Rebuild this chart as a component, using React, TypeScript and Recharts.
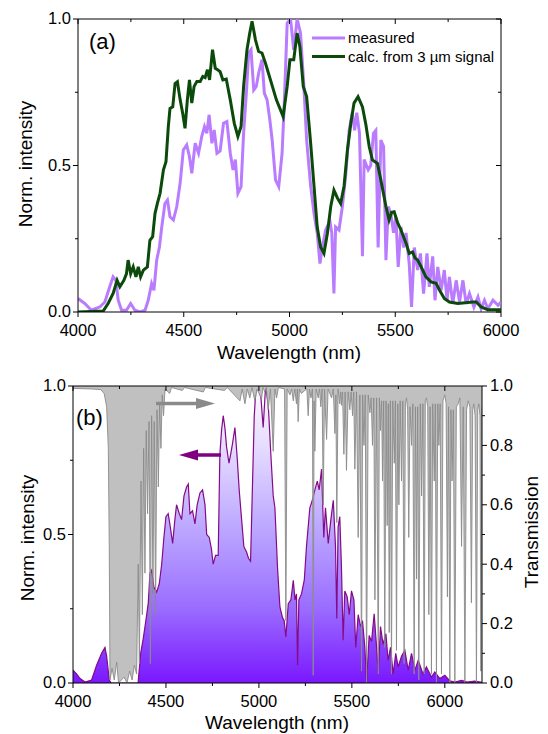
import React from 'react';
import { ComposedChart, Line, Area, XAxis, YAxis, ReferenceLine } from 'recharts';

const FONT = '"Liberation Sans", Arial, Helvetica, sans-serif';

// ---------- panel (a): measured vs calculated spectrum ----------
const measuredA: [number, number][] = [
  [4000, 0.046], [4032, 0.029], [4063, 0.006], [4103, 0.017], [4127, 0.034], [4150, 0.086], [4166, 0.12], [4179, 0.108],
  [4190, 0.04], [4206, 0.006], [4229, 0.006], [4249, 0.029], [4269, 0.006], [4293, 0], [4317, 0.006], [4332, 0.04],
  [4348, 0.097], [4359, 0.074], [4372, 0.177], [4385, 0.222], [4396, 0.29], [4411, 0.37], [4423, 0.382], [4435, 0.325],
  [4451, 0.314], [4467, 0.36], [4483, 0.44], [4498, 0.553], [4514, 0.57], [4527, 0.53], [4538, 0.473], [4554, 0.576],
  [4570, 0.542], [4585, 0.599], [4598, 0.633], [4609, 0.61], [4620, 0.673], [4633, 0.576], [4644, 0.621], [4657, 0.542],
  [4672, 0.55], [4688, 0.644], [4704, 0.65], [4720, 0.542], [4733, 0.485], [4744, 0.52], [4756, 0.405], [4771, 0.428],
  [4783, 0.61], [4796, 0.747], [4807, 0.884], [4818, 0.895], [4831, 0.758], [4843, 0.77], [4854, 0.815], [4870, 0.861],
  [4881, 0.747], [4894, 0.724], [4907, 0.656], [4918, 0.587], [4934, 0.45], [4949, 0.428], [4965, 0.542], [4976, 0.724],
  [4989, 0.986], [5005, 1.0], [5020, 0.895], [5036, 1.0], [5052, 0.952], [5068, 0.77], [5081, 0.587], [5100, 0.43],
  [5116, 0.336], [5131, 0.27], [5144, 0.165], [5155, 0.22], [5171, 0.28], [5191, 0.31], [5200, 0.27], [5210, 0.063],
  [5218, 0.29], [5234, 0.28], [5250, 0.36], [5266, 0.47], [5282, 0.62], [5297, 0.68], [5308, 0.62], [5318, 0.68],
  [5331, 0.61], [5345, 0.19], [5353, 0.52], [5372, 0.485], [5384, 0.5], [5397, 0.61], [5408, 0.62], [5419, 0.22],
  [5432, 0.587], [5445, 0.565], [5456, 0.177], [5467, 0.36], [5479, 0.336], [5492, 0.27], [5503, 0.325], [5514, 0.154],
  [5527, 0.29], [5540, 0.22], [5551, 0.27], [5566, 0.165], [5577, 0.017], [5590, 0.22], [5606, 0.143], [5619, 0.2],
  [5634, 0.063], [5650, 0.2], [5661, 0.086], [5677, 0.19], [5688, 0.04], [5701, 0.154], [5717, 0.074], [5732, 0.143],
  [5745, 0.04], [5756, 0.12], [5772, 0.028], [5788, 0.108], [5804, 0.034], [5820, 0.108], [5835, 0.028], [5851, 0.063],
  [5872, 0.017], [5891, 0.051], [5906, 0.011], [5922, 0.04], [5938, 0.011], [5962, 0.04], [5986, 0.023], [6000, 0.034],
];

const calcA: [number, number][] = [
  [4000, 0], [4119, 0.003], [4143, 0.03], [4166, 0.063], [4185, 0.108], [4198, 0.086], [4217, 0.108], [4229, 0.13],
  [4237, 0.177], [4249, 0.131], [4261, 0.154], [4274, 0.12], [4285, 0.154], [4296, 0.12], [4309, 0.143], [4328, 0.154],
  [4340, 0.245], [4353, 0.257], [4364, 0.336], [4375, 0.37], [4388, 0.405], [4404, 0.485], [4416, 0.513], [4427, 0.633],
  [4435, 0.695], [4448, 0.7], [4459, 0.78], [4470, 0.786], [4483, 0.724], [4495, 0.678], [4506, 0.627], [4517, 0.724],
  [4527, 0.792], [4538, 0.713], [4549, 0.77], [4562, 0.787], [4578, 0.787], [4590, 0.804], [4601, 0.8], [4612, 0.827],
  [4622, 0.792], [4636, 0.895], [4649, 0.832], [4660, 0.827], [4672, 0.82], [4685, 0.792], [4701, 0.795], [4720, 0.724],
  [4739, 0.644], [4756, 0.599], [4771, 0.633], [4783, 0.77], [4799, 0.895], [4812, 0.952], [4823, 0.992], [4839, 0.929],
  [4854, 0.889], [4870, 0.884], [4886, 0.85], [4910, 0.792], [4938, 0.724], [4970, 0.667], [4989, 0.77], [5002, 0.861],
  [5020, 0.861], [5036, 0.952], [5049, 0.906], [5065, 0.77], [5081, 0.735], [5100, 0.576], [5116, 0.43], [5131, 0.29],
  [5147, 0.222], [5163, 0.2], [5179, 0.268], [5195, 0.36], [5210, 0.416], [5226, 0.39], [5242, 0.37], [5258, 0.43],
  [5274, 0.553], [5290, 0.644], [5305, 0.713], [5324, 0.735], [5345, 0.7], [5361, 0.64], [5377, 0.564], [5392, 0.519],
  [5416, 0.507], [5432, 0.45], [5456, 0.36], [5471, 0.314], [5483, 0.34], [5495, 0.342], [5511, 0.305], [5527, 0.28],
  [5551, 0.235], [5566, 0.2], [5582, 0.205], [5593, 0.185], [5606, 0.177], [5622, 0.155], [5645, 0.12], [5669, 0.103],
  [5693, 0.098], [5709, 0.075], [5732, 0.046], [5756, 0.034], [5796, 0.029], [5867, 0.034], [5883, 0.034], [5906, 0.017],
  [5938, 0.008], [6000, 0.008],
];

// ---------- panel (b): measured spectrum + atmospheric transmission ----------
const intensityB: [number, number][] = [
  [4000, 0.043], [4020, 0.03], [4038, 0.015], [4065, 0.003], [4100, 0.01], [4127, 0.06], [4154, 0.1], [4172, 0.12],
  [4181, 0.09], [4195, 0.01], [4205, 0], [4350, 0], [4364, 0.1], [4378, 0.15], [4392, 0.21], [4405, 0.27],
  [4414, 0.37], [4423, 0.38], [4435, 0.323], [4450, 0.306], [4464, 0.334], [4477, 0.4], [4489, 0.49], [4500, 0.56],
  [4512, 0.57], [4521, 0.535], [4536, 0.47], [4548, 0.55], [4557, 0.6], [4572, 0.57], [4584, 0.55], [4597, 0.63],
  [4611, 0.66], [4620, 0.67], [4629, 0.57], [4643, 0.58], [4656, 0.536], [4668, 0.6], [4683, 0.64], [4697, 0.65],
  [4710, 0.6], [4719, 0.5], [4733, 0.49], [4745, 0.45], [4754, 0.4], [4767, 0.43], [4781, 0.43], [4790, 0.77],
  [4799, 0.85], [4808, 0.9], [4817, 0.86], [4826, 0.795], [4839, 0.74], [4848, 0.77], [4858, 0.806], [4871, 0.86],
  [4883, 0.76], [4894, 0.65], [4907, 0.55], [4919, 0.46], [4934, 0.44], [4944, 0.42], [4955, 0.41], [4966, 0.68],
  [4975, 0.9], [4984, 0.99], [4996, 1.0], [5011, 0.96], [5023, 0.86], [5036, 1.0], [5050, 0.94], [5065, 0.76],
  [5077, 0.63], [5086, 0.59], [5100, 0.39], [5113, 0.256], [5127, 0.22], [5136, 0.21], [5145, 0.155], [5158, 0.267],
  [5172, 0.28], [5185, 0.346], [5194, 0.28], [5202, 0.3], [5208, 0.06], [5215, 0.28], [5229, 0.3], [5244, 0.346],
  [5256, 0.46], [5274, 0.59], [5287, 0.615], [5301, 0.65], [5314, 0.68], [5324, 0.65], [5337, 0.72], [5349, 0.49],
  [5358, 0.59], [5373, 0.47], [5387, 0.55], [5400, 0.615], [5412, 0.46], [5419, 0.217], [5426, 0.525], [5435, 0.56],
  [5444, 0.39], [5453, 0.144], [5462, 0.31], [5475, 0.29], [5486, 0.23], [5498, 0.31], [5511, 0.28], [5521, 0.12],
  [5534, 0.23], [5547, 0.19], [5557, 0.21], [5570, 0.12], [5579, 0.0], [5593, 0.16], [5606, 0.14], [5620, 0.233],
  [5633, 0.12], [5642, 0.03], [5654, 0.19], [5668, 0.13], [5683, 0.166], [5695, 0.076], [5708, 0.12], [5722, 0.03],
  [5736, 0.1], [5749, 0.054], [5767, 0.09], [5785, 0.11], [5803, 0.043], [5821, 0.1], [5839, 0.043], [5857, 0.076],
  [5883, 0.03], [5901, 0.054], [5928, 0.02], [5946, 0.037], [5973, 0.015], [6000, 0.026], [6027, 0.007], [6054, 0.003],
  [6090, 0.009], [6120, 0.003], [6160, 0.006], [6200, 0.002],
];

const transmissionB: [number, number][] = [
  [4000, 0.992], [4100, 0.99], [4150, 0.988], [4168, 0.974], [4181, 0.93], [4190, 0.79], [4195, 0.46], [4199, 0.01],
  [4210, 0.05], [4222, 0.01], [4235, 0.07], [4245, 0], [4275, 0.02], [4290, 0], [4305, 0.04], [4318, 0.01],
  [4330, 0.06], [4342, 0.03], [4351, 0.4], [4357, 0.065], [4366, 0.68], [4373, 0.23], [4380, 0.79], [4387, 0.37],
  [4394, 0.85], [4401, 0.57], [4409, 0.88], [4416, 0.065], [4423, 0.9], [4430, 0.3], [4437, 0.88], [4444, 0.23],
  [4452, 0.92], [4459, 0.66], [4466, 0.94], [4473, 0.79], [4480, 0.97], [4487, 0.9], [4495, 0.99], [4520, 0.975],
  [4530, 0.995], [4588, 0.985], [4600, 0.995], [4701, 0.98], [4712, 0.995], [4815, 0.985], [4830, 0.995], [4898, 0.95],
  [4910, 0.99], [4925, 0.94], [4938, 0.99], [4951, 0.96], [4963, 0.995], [4978, 0.95], [4990, 0.99], [5014, 0.957],
  [5022, 0.995], [5032, 0.98], [5040, 0.995], [5050, 0.92], [5062, 0.99], [5077, 0.78], [5086, 0.99], [5095, 0.96],
  [5105, 0.995], [5138, 0.99], [5145, 0.21], [5152, 0.99], [5167, 0.97], [5176, 0.99], [5185, 0.95], [5193, 0.99],
  [5202, 0.94], [5207, 0.99], [5211, 0.88], [5218, 0.99], [5229, 0.975], [5247, 0.985], [5258, 0.99], [5265, 0.9],
  [5272, 0.99], [5280, 0.96], [5288, 0.99], [5292, 0.026], [5297, 0.95], [5301, 0.78], [5308, 0.99], [5319, 0.96],
  [5326, 0.99], [5333, 0.93], [5340, 0.99], [5346, 0.6], [5353, 0.99], [5364, 0.82], [5372, 0.99], [5391, 0.96],
  [5400, 0.99], [5409, 0.84], [5414, 0.97], [5419, 0.54], [5426, 0.99], [5435, 0.94], [5440, 0.98], [5444, 0.935],
  [5450, 0.98], [5457, 0.77], [5464, 0.98], [5471, 0.716], [5480, 0.98], [5489, 0.92], [5496, 0.98], [5504, 0.9],
  [5510, 0.98], [5516, 0.72], [5525, 0.98], [5534, 0.49], [5543, 0.97], [5552, 0.04], [5558, 0.97], [5565, 0.8],
  [5572, 0.97], [5579, 0.0], [5588, 0.97], [5597, 0.91], [5604, 0.96], [5611, 0.8], [5618, 0.96], [5624, 0.28],
  [5633, 0.96], [5642, 0.03], [5648, 0.96], [5654, 0.85], [5660, 0.95], [5665, 0.68], [5671, 0.95], [5677, 0.12],
  [5684, 0.95], [5690, 0.53], [5696, 0.94], [5701, 0.17], [5707, 0.95], [5713, 0.03], [5720, 0.95], [5728, 0.74],
  [5734, 0.95], [5740, 0.11], [5747, 0.94], [5753, 0.6], [5760, 0.95], [5767, 0.68], [5774, 0.95], [5781, 0.065],
  [5788, 0.94], [5794, 0.96], [5800, 0.92], [5806, 0.49], [5813, 0.93], [5821, 0.8], [5828, 0.94], [5835, 0.03],
  [5842, 0.93], [5848, 0.35], [5854, 0.93], [5860, 0.01], [5868, 0.94], [5875, 0.63], [5882, 0.94], [5889, 0.03],
  [5895, 0.95], [5901, 0.96], [5908, 0.93], [5914, 0.23], [5921, 0.93], [5928, 0.03], [5935, 0.94], [5943, 0.68],
  [5949, 0.94], [5955, 0.0], [5962, 0.94], [5968, 0.8], [5975, 0.94], [5982, 0.03], [5990, 0.95], [6000, 0.97],
  [6007, 0.94], [6014, 0.29], [6020, 0.93], [6027, 0.0], [6033, 0.92], [6039, 0.68], [6046, 0.92], [6054, 0.0],
  [6062, 0.93], [6072, 0.94], [6081, 0.96], [6090, 0.46], [6099, 0.93], [6108, 0.0], [6117, 0.92], [6126, 0.95],
  [6135, 0.93], [6143, 0.27], [6150, 0.92], [6156, 0.94], [6163, 0.9], [6170, 0.0], [6177, 0.92], [6183, 0.94],
  [6189, 0.9], [6194, 0.04], [6200, 0.93],
];

const xTicks = [4000, 4250, 4500, 4750, 5000, 5250, 5500, 5750, 6000];
const normTicks = [0, 0.25, 0.5, 0.75, 1];
const transTicks = [0, 0.1, 0.2, 0.3, 0.4, 0.5, 0.6, 0.7, 0.8, 0.9, 1];

const legendItems = [
  { name: 'measured', color: '#b97cff' },
  { name: 'calc. from 3 \u00b5m signal', color: '#0b4a0b' },
];

const rows = (pts: [number, number][]) => pts.map(([x, y]) => ({ x, y }));

// plot sizes (needed to mirror tick marks onto the top / right frame)
const A = { w: 548, h: 370, top: 19, left: 78, right: 47, xh: 58 };
const B = { w: 548, h: 364, top: 16, left: 73, right: 66, xh: 51 };
const plotHA = A.h - A.top - A.xh;
const plotWA = A.w - A.left - A.right;
const plotHB = B.h - B.top - B.xh;
const TICK_FS = 16.5;

const bottomTick = (plotH: number, labelDy: number) => (p: any) => {
  const { x, y, payload } = p;
  const v = payload.value;
  const major = v % 500 === 0;
  const len = major ? 5 : 3;
  return (
    <g>
      <line x1={x} x2={x} y1={y} y2={y + len} stroke="#000" />
      <line x1={x} x2={x} y1={y - plotH} y2={y - plotH + len} stroke="#000" />
      {major && (
        <text x={x} y={y + labelDy} textAnchor="middle" fontSize={TICK_FS} fontFamily={FONT} fill="#000">
          {v}
        </text>
      )}
    </g>
  );
};

const leftTick = (plotW: number) => (p: any) => {
  const { x, y, payload } = p;
  const v = payload.value;
  const major = v === 0 || v === 0.5 || v === 1;
  const len = major ? 5 : 3;
  return (
    <g>
      <line x1={x} x2={x - len} y1={y} y2={y} stroke="#000" />
      {plotW > 0 && <line x1={x + plotW} x2={x + plotW - len} y1={y} y2={y} stroke="#000" />}
      {major && (
        <text x={x - 7} y={y} dy="0.33em" textAnchor="end" fontSize={TICK_FS} fontFamily={FONT} fill="#000">
          {v.toFixed(1)}
        </text>
      )}
    </g>
  );
};

const rightTick = (p: any) => {
  const { x, y, payload } = p;
  const v = payload.value;
  const major = Math.round(v * 10) % 2 === 0;
  return (
    <g>
      <line x1={x} x2={x + (major ? 5 : 3)} y1={y} y2={y} stroke="#000" />
      {major && (
        <text x={x + 8} y={y} dy="0.33em" textAnchor="start" fontSize={TICK_FS} fontFamily={FONT} fill="#000">
          {v.toFixed(1)}
        </text>
      )}
    </g>
  );
};

function PanelA() {
  return (
    <ComposedChart width={A.w} height={A.h} margin={{ top: A.top, right: A.right, bottom: 0, left: 0 }}>
      <XAxis dataKey="x" type="number" domain={[4000, 6000]} ticks={xTicks} interval={0} allowDataOverflow
        height={A.xh} tickSize={0} tickMargin={0} tickLine={false} tick={bottomTick(plotHA, 24)}
        axisLine={{ stroke: '#000' }} />
      <YAxis type="number" domain={[0, 1]} ticks={normTicks} interval={0} allowDataOverflow
        width={A.left} tickSize={0} tickMargin={0} tickLine={false} tick={leftTick(plotWA)}
        axisLine={{ stroke: '#000' }} />
      <ReferenceLine y={1} stroke="#000" />
      <ReferenceLine x={6000} stroke="#000" />
      <Line data={rows(measuredA)} dataKey="y" name="measured" type="linear" stroke="#b97cff"
        strokeWidth={3} dot={false} activeDot={false} isAnimationActive={false} />
      <Line data={rows(calcA)} dataKey="y" name="calc" type="linear" stroke="#0b4a0b"
        strokeWidth={3} dot={false} activeDot={false} isAnimationActive={false} />
    </ComposedChart>
  );
}

function PanelB() {
  return (
    <ComposedChart width={B.w} height={B.h} margin={{ top: B.top, right: 0, bottom: 0, left: 0 }}>
      <defs>
        <linearGradient id="violetFill" x1="0" y1="0" x2="0" y2="1">
          <stop offset="0" stopColor="#fbf9ff" />
          <stop offset="0.2" stopColor="#e6ddff" />
          <stop offset="0.5" stopColor="#b9a3ff" />
          <stop offset="0.75" stopColor="#9a6cff" />
          <stop offset="1" stopColor="#7a17fe" />
        </linearGradient>
      </defs>
      <XAxis dataKey="x" type="number" domain={[4000, 6200]} ticks={xTicks} interval={0} allowDataOverflow
        height={B.xh} tickSize={0} tickMargin={0} tickLine={false} tick={bottomTick(plotHB, 24)}
        axisLine={{ stroke: '#000' }} />
      <YAxis yAxisId="n" type="number" domain={[0, 1]} ticks={normTicks} interval={0} allowDataOverflow
        width={B.left} tickSize={0} tickMargin={0} tickLine={false} tick={leftTick(0)}
        axisLine={{ stroke: '#000' }} />
      <YAxis yAxisId="t" orientation="right" type="number" domain={[0, 1]} ticks={transTicks} interval={0}
        allowDataOverflow width={B.right} tickSize={0} tickMargin={0} tickLine={false} tick={rightTick}
        axisLine={{ stroke: '#000' }} />
      <Area data={rows(intensityB)} yAxisId="n" dataKey="y" type="linear" stroke="#840a88" strokeWidth={1.2}
        fill="url(#violetFill)" fillOpacity={1} dot={false} activeDot={false} isAnimationActive={false} />
      <Area data={rows(transmissionB)} yAxisId="t" dataKey="y" type="linear" baseValue={1} stroke="#8a8a8a"
        strokeWidth={0.9} fill="#c0c0c0" fillOpacity={1} dot={false} activeDot={false} isAnimationActive={false} />
      <ReferenceLine yAxisId="n" y={1} stroke="#000" />
    </ComposedChart>
  );
}

export default function App() {
  return (
    <div style={{ position: 'absolute', left: 0, top: 0, width: 548, height: 734, background: '#fff', fontFamily: FONT }}>
      <div style={{ position: 'absolute', left: 0, top: 0 }}>
        <PanelA />
      </div>
      <div style={{ position: 'absolute', left: 0, top: 370 }}>
        <PanelB />
      </div>
      <svg width={548} height={734} style={{ position: 'absolute', left: 0, top: 0, pointerEvents: 'none' }}
        fontFamily={FONT} fill="#000">
        {/* panel (a) */}
        <text x={89} y={49} fontSize={22}>(a)</text>
        <text transform="translate(25,164) rotate(-90)" textAnchor="middle" dy="0.35em" fontSize={19}>Norm. intensity</text>
        <text x={289} y={359} textAnchor="middle" fontSize={19}>Wavelength (nm)</text>
        {legendItems.map((it, i) => (
          <g key={it.name}>
            <line x1={312} x2={345} y1={38 + i * 18.5} y2={38 + i * 18.5} stroke={it.color} strokeWidth={3} />
            <text x={348} y={38 + i * 18.5} dy="0.35em" fontSize={15}>{it.name}</text>
          </g>
        ))}
        {/* panel (b) */}
        <text x={76} y={425} fontSize={22}>(b)</text>
        <text transform="translate(27,538) rotate(-90)" textAnchor="middle" dy="0.35em" fontSize={19}>Norm. intensity</text>
        <text transform="translate(531,532) rotate(-90)" textAnchor="middle" dy="0.35em" fontSize={19}>Transmission</text>
        <text x={277} y={729} textAnchor="middle" fontSize={19}>Wavelength (nm)</text>
        <line x1={156} x2={199} y1={403.5} y2={403.5} stroke="#8a8a8a" strokeWidth={3.5} />
        <polygon points="215,403.5 196,398 196,409" fill="#8a8a8a" />
        <line x1={196} x2={221} y1={455} y2={455} stroke="#800080" strokeWidth={3.5} />
        <polygon points="179,455 198,449.5 198,460.5" fill="#800080" />
      </svg>
    </div>
  );
}
